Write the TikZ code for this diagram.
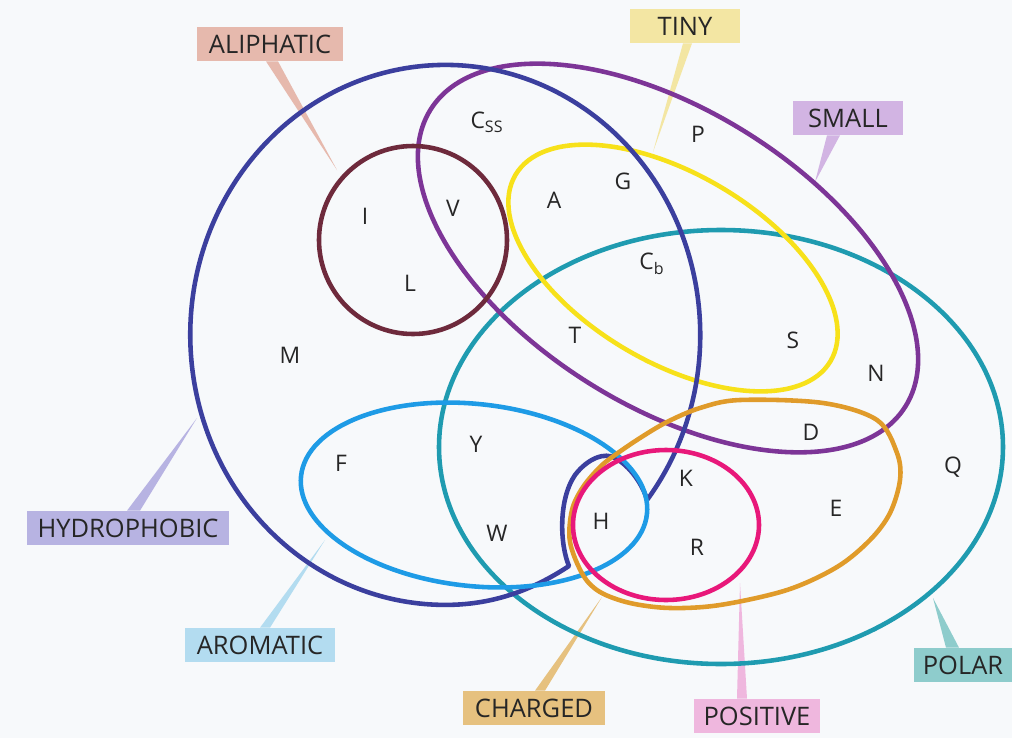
\documentclass[tikz,border=0pt]{standalone}
\usepackage{fontspec}
\setmainfont{Open Sans}
\usetikzlibrary{positioning}

% set colours
\definecolor{hydroc}{RGB}{59,63,158}
\definecolor{alic}{RGB}{110,42,60}
\definecolor{smallc}{RGB}{125,53,151}
\definecolor{tinyc}{RGB}{247,225,26}
\definecolor{polarc}{RGB}{31,155,176}
\definecolor{aromc}{RGB}{30,155,230}
\definecolor{chargc}{RGB}{224,155,42}
\definecolor{posc}{RGB}{232,24,122}
% tag colours
\definecolor{alit}{RGB}{230,185,173}
\definecolor{tinyt}{RGB}{243,230,163}
\definecolor{smallt}{RGB}{210,180,227}
\definecolor{hydrot}{RGB}{183,179,226}
\definecolor{aromt}{RGB}{179,220,240}
\definecolor{chargt}{RGB}{230,193,127}
\definecolor{post}{RGB}{239,183,222}
\definecolor{polart}{RGB}{142,204,204}
\definecolor{bgc}{RGB}{247,249,251}

\begin{document}
\begin{tikzpicture}[x=0.02cm,y=-0.02cm,
  line cap=round,
  line join=round,
  setline/.style={line width=2.6pt},
  acid/.style={font=\fontsize{13}{15}\selectfont, text=black!85},
  tag/.style={font=\fontsize{14.5}{17}\selectfont, text=black!85,
    minimum height=0.68cm, inner xsep=5pt}]

  % page
  \fill[bgc] (0,0) rectangle (1012,738);
  \useasboundingbox (0,0) rectangle (1012,738);

  % tips of the pointers
  \coordinate (tipali)    at (337,170);
  \coordinate (tiptiny)   at (653,152);
  \coordinate (tipsmall)  at (815,182);
  \coordinate (tiphydro)  at (197,418);
  \coordinate (tiparom)   at (325,540);
  \coordinate (tipcharg)  at (602,597);
  \coordinate (tippos)    at (740,583);
  \coordinate (tippolar)  at (933,598);

  % tags
  \node[tag,fill=alit,minimum width=2.92cm]   (lblali)   at (270,44)  {ALIPHATIC};
  \node[tag,fill=tinyt,minimum width=2.2cm]   (lbltiny)  at (685,26)  {TINY};
  \node[tag,fill=smallt,minimum width=2.2cm]  (lblsmall) at (848,118) {SMALL};
  \node[tag,fill=hydrot,minimum width=4.06cm] (lblhydro) at (128,528) {HYDROPHOBIC};
  \node[tag,fill=aromt,minimum width=3.0cm]   (lblarom)  at (260,645) {AROMATIC};
  \node[tag,fill=chargt,minimum width=2.84cm] (lblcharg) at (534,708) {CHARGED};
  \node[tag,fill=post,minimum width=2.54cm]   (lblpos)   at (757,716) {POSITIVE};
  \node[tag,fill=polart,minimum width=1.94cm] (lblpolar) at (963,665) {POLAR};

  % pointers
  \fill[alit]   ([xshift=-0.08cm]lblali.south) -- (tipali) -- ([xshift=0.16cm]lblali.south) -- cycle;
  \fill[tinyt]  ([xshift=-0.04cm]lbltiny.south) -- (tiptiny) -- ([xshift=0.14cm]lbltiny.south) -- cycle;
  \fill[smallt] ([xshift=-0.42cm]lblsmall.south) -- (tipsmall) -- ([xshift=-0.16cm]lblsmall.south) -- cycle;
  \fill[hydrot] ([xshift=-0.02cm]lblhydro.north) -- (tiphydro) -- ([xshift=0.24cm]lblhydro.north) -- cycle;
  \fill[aromt]  ([xshift=0cm]lblarom.north) -- (tiparom) -- ([xshift=0.2cm]lblarom.north) -- cycle;
  \fill[chargt] ([xshift=0.02cm]lblcharg.north) -- (tipcharg) -- ([xshift=0.22cm]lblcharg.north) -- cycle;
  \fill[post]   ([xshift=-0.4cm]lblpos.north) -- (tippos) -- ([xshift=-0.2cm]lblpos.north) -- cycle;
  \fill[polart] ([xshift=-0.34cm]lblpolar.north) -- (tippolar) -- ([xshift=-0.08cm]lblpolar.north) -- cycle;

  % polar
  \draw[setline,polarc] (721,447) ellipse[x radius=282, y radius=217];

  % small
  \draw[setline,smallc,rotate around={-32:(668,258)}]
    (668,258) ellipse[x radius=280, y radius=148];

  % tiny
  \draw[setline,tinyc,rotate around={-30.6:(673,268)}]
    (673,268) ellipse[x radius=183, y radius=94];

  % hydrophobic (oval with a loop round H)
  \coordinate (htip) at (647,500);
  \draw[setline,hydroc] (htip)
    arc[start angle=37.7, end angle=-270, x radius=255, y radius=270]
    .. controls (500,605) and (540,585) .. (569,566)
    .. controls (560,545) and (558,500) .. (575,475)
    .. controls (588,458) and (605,452) .. (615,458)
    .. controls (630,466) and (643,485) .. (htip);

  % aliphatic
  \draw[setline,alic] (413,240) circle[radius=94];

  % aromatic
  \draw[setline,aromc,rotate around={-6.3:(474,495)}]
    (474,495) ellipse[x radius=174, y radius=91];

  % charged
  \draw[setline,chargc] plot[smooth cycle,tension=0.55] coordinates {
    (740,400) (823,403) (877,420) (897,453) (900,480) (890,513) (870,540)
    (837,567) (787,590) (720,605) (670,608) (630,603) (600,592) (583,575)
    (570,542) (572,510) (583,487) (600,467) (615,455) (640,438) (667,422)
    (700,408)};

  % positive
  \draw[setline,posc] (666,525) ellipse[x radius=93, y radius=75];

  % amino acids
  \node[acid] (nC)  at (487,122) {C\textsubscript{SS}};
  \node[acid] (nP)  at (698,134) {P};
  \node[acid] (nI)  at (365,216) {I};
  \node[acid] (nV)  at (453,208) {V};
  \node[acid] (nA)  at (554,200) {A};
  \node[acid] (nG)  at (623,181) {G};
  \node[acid] (nL)  at (410,283) {L};
  \node[acid] (nCb) at (652,264) {C\textsubscript{b}};
  \node[acid] (nT)  at (575,335) {T};
  \node[acid] (nS)  at (793,340) {S};
  \node[acid] (nN)  at (876,373) {N};
  \node[acid] (nM)  at (290,355) {M};
  \node[acid] (nD)  at (811,432) {D};
  \node[acid] (nY)  at (476,444) {Y};
  \node[acid] (nF)  at (341,463) {F};
  \node[acid] (nQ)  at (953,467) {Q};
  \node[acid] (nK)  at (686,478) {K};
  \node[acid] (nE)  at (836,508) {E};
  \node[acid] (nH)  at (601,521) {H};
  \node[acid] (nW)  at (497,533) {W};
  \node[acid] (nR)  at (697,547) {R};

\end{tikzpicture}
\end{document}
